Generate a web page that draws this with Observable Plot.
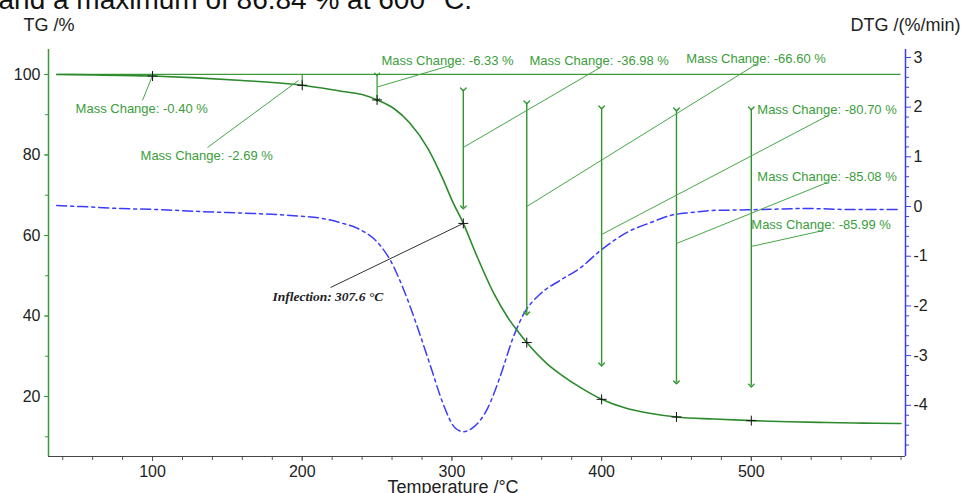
<!DOCTYPE html>
<html><head><meta charset="utf-8">
<script src="https://cdn.jsdelivr.net/npm/d3@7"></script>
<script src="https://cdn.jsdelivr.net/npm/@observablehq/plot@0.6"></script>
<style>body{margin:0;background:#fff;overflow:hidden}</style>
</head><body><div id="chart"></div>
<script>
// TG curve (%)
const tgT = [36, 60, 100, 130, 160, 200, 225, 240, 250, 261, 272, 284, 294, 300, 307.6, 317, 328, 337, 344, 350, 364, 373, 386, 400, 417, 433, 450, 475, 500, 525, 550, 575, 600];
const tgV = [100, 99.9, 99.6, 99.15, 98.5, 97.31, 95.9, 95.0, 93.67, 91.6, 87.9, 81.6, 74.0, 68.8, 63.0, 54.6, 45.6, 39.8, 36.2, 33.4, 28.0, 25.4, 22.2, 19.3, 17.0, 15.8, 14.92, 14.4, 14.01, 13.75, 13.55, 13.4, 13.3];
// DTG curve (%/min)
const dtgT = [36, 52, 79, 103, 132, 150, 167, 192, 217, 226, 237, 252, 259, 268, 277, 286, 294, 302, 307.7, 314, 324, 332, 341, 348, 359, 372, 386, 399, 417, 433, 446, 460, 473, 490, 506, 537, 566, 600];
const dtgV = [0.02, 0.0, -0.04, -0.06, -0.10, -0.12, -0.14, -0.18, -0.26, -0.33, -0.44, -0.78, -1.09, -1.69, -2.43, -3.24, -3.96, -4.45, -4.53, -4.45, -4.05, -3.44, -2.63, -2.16, -1.76, -1.49, -1.23, -0.89, -0.52, -0.32, -0.18, -0.12, -0.08, -0.07, -0.06, -0.04, -0.06, -0.06];
// evaluated points (+)
const markT = [100, 200, 250, 307.6, 350, 400, 450, 500];
const markTG = [99.6, 97.31, 93.67, 63.0, 33.4, 19.3, 14.92, 14.01];
// mass-change double arrows
const arrowT = [307.6, 350, 400, 450, 500];
const arrowTop = [96.27, 93.04, 91.8, 91.3, 91.55];
const arrowBottom = [66.96, 40.62, 27.95, 23.5, 22.73];
// annotation labels
const labelText = ["Mass Change: -0.40 %", "Mass Change: -2.69 %", "Mass Change: -6.33 %", "Mass Change: -36.98 %", "Mass Change: -66.60 %", "Mass Change: -80.70 %", "Mass Change: -85.08 %", "Mass Change: -85.99 %"];
const labelT = [48.6, 92.0, 252.9, 351.8, 456.6, 504.0, 504.0, 500.0];
const labelTG = [91.55, 79.88, 103.48, 103.48, 103.98, 91.3, 74.66, 62.73];
// leader lines label -> arrow
const leadT1 = [93.3, 136.7, 299.0, 399.2, 504.0, 551.4, 550.8, 548.1];
const leadTG1 = [93.54, 81.86, 102.24, 101.74, 102.7, 89.81, 73.17, 61.24];
const leadT2 = [100, 197.5, 250.3, 307.6, 350, 400, 450, 500];
const leadTG2 = [99.75, 98.5, 96.9, 81.86, 67.2, 60.25, 58.0, 57.27];
// inflection
const inflText = ["Inflection: 307.6 \u00B0C"];
const inflLabel = [180.1, 44.84];
const inflLead = [218.9, 47.08, 307.6, 63.0];
// ticks
const xTicks = [100, 200, 300, 400, 500];
const tgTicks = [20, 40, 60, 80, 100];
const dtgTicks = [3, 2, 1, 0, -1, -2, -3, -4];

const xDomain = [30.5, 603];
const tgDomain = [5.1, 106.2];
const dtgDomain = [-5.03, 3.16];
const dtgToTg = d3.scaleLinear().domain(dtgDomain).range(tgDomain);

const GREEN = "#3a9a3a", DARKGREEN = "#2c8a2c", ARROW = "#2f952f", LABEL = "#3b9d3b", BLUE = "#3b3bff";

const tg = tgT.map((t, i) => ({t, v: tgV[i]}));
const dtg = dtgT.map((t, i) => ({t, v: dtgToTg(dtgV[i])}));
const marks = markT.map((t, i) => ({t, v: markTG[i]}));
const arrows = arrowT.map((t, i) => ({t, a: arrowTop[i], b: arrowBottom[i]}));
const labels = labelText.map((s, i) => ({s, t: labelT[i], v: labelTG[i]}));
const leads = leadT1.map((t, i) => ({x1: t, y1: leadTG1[i], x2: leadT2[i], y2: leadTG2[i]}));

const minorDtg = d3.range(-48, 31, 2).map(d => d / 10).filter(d => !Number.isInteger(d));

const chart = Plot.plot({
  width: 964, height: 493,
  marginLeft: 48, marginRight: 59, marginTop: 49, marginBottom: 37,
  x: {domain: xDomain},
  y: {domain: tgDomain},
  style: {fontFamily: "'Liberation Sans', Arial, sans-serif", fontSize: "16px", color: "#222", background: "#fff", overflow: "visible"},
  marks: [
    // bottom axis
    Plot.axisX(d3.range(40, 601, 20), {tickSize: 4, tickFormat: () => "", stroke: "#555", label: null}),
    Plot.axisX(xTicks, {tickSize: 5, tickPadding: 4, fontSize: 16, stroke: "#555", fill: "#222", label: null}),
    // left axis
    Plot.axisY(d3.range(10, 101, 10), {anchor: "left", tickSize: 3, tickFormat: () => "", stroke: GREEN, label: null}),
    Plot.axisY(tgTicks, {anchor: "left", tickSize: 4, tickPadding: 4, fontSize: 16, stroke: GREEN, fill: "#222", label: null}),
    // right axis
    Plot.axisY(minorDtg.map(d => dtgToTg(d)), {anchor: "right", tickSize: 3, tickFormat: () => "", stroke: BLUE, label: null}),
    Plot.axisY(dtgTicks.map(d => dtgToTg(d)), {anchor: "right", tickSize: 5, tickPadding: 3, fontSize: 16, stroke: BLUE, fill: "#222", label: null,
      tickFormat: v => String(Math.round(dtgToTg.invert(v)))}),
    Plot.ruleX([xDomain[0]], {stroke: GREEN, strokeWidth: 1.5}),
    Plot.ruleX([xDomain[1]], {stroke: BLUE, strokeWidth: 1.5}),
    Plot.ruleY([tgDomain[0]], {stroke: "#444", strokeWidth: 1}),
    // 100 % reference
    Plot.ruleY([100], {x1: 36, x2: 600, stroke: GREEN, strokeWidth: 1.3}),
    // DTG
    Plot.line(dtg, {x: "t", y: "v", curve: "monotone-x", stroke: BLUE, strokeWidth: 1.5, strokeDasharray: "10,4,3,4"}),
    // TG
    Plot.line(tg, {x: "t", y: "v", curve: "monotone-x", stroke: DARKGREEN, strokeWidth: 1.6}),
    // small step markers at 200 and 250
    Plot.link([{t: 200}], {x1: "t", x2: "t", y1: 100, y2: 97.31, stroke: ARROW, strokeWidth: 1.2}),
    Plot.link([{t: 250}], {x1: "t", x2: "t", y1: 100, y2: 93.67, stroke: ARROW, strokeWidth: 1.2, markerStart: "arrow", markerEnd: "arrow"}),
    // big arrows
    Plot.link(arrows, {x1: "t", x2: "t", y1: "a", y2: "b", stroke: ARROW, strokeWidth: 1.4, markerStart: "arrow", markerEnd: "arrow"}),
    // leaders
    Plot.link(leads, {x1: "x1", y1: "y1", x2: "x2", y2: "y2", stroke: "#45a845", strokeWidth: 1}),
    Plot.link([inflLead], {x1: d => d[0], y1: d => d[1], x2: d => d[2], y2: d => d[3], stroke: "#333", strokeWidth: 1}),
    // markers
    Plot.dot(marks, {x: "t", y: "v", symbol: "plus", r: 3.3, stroke: "#111", strokeWidth: 1}),
    // labels
    Plot.text(labels, {x: "t", y: "v", text: "s", textAnchor: "start", fill: LABEL, fontSize: 13}),
    Plot.text(inflText, {x: inflLabel[0], y: inflLabel[1], text: d => d, textAnchor: "start", fill: "#222", fontSize: 13.5,
      fontFamily: "'Liberation Serif', 'Times New Roman', serif", fontStyle: "italic", fontWeight: "bold"}),
    // titles
    Plot.text(["TG /%"], {frameAnchor: "top-left", dx: -25, dy: -31, textAnchor: "start", fontSize: 18, fill: "#222"}),
    Plot.text(["DTG /(%/min)"], {frameAnchor: "top-right", dx: -55, dy: -31, textAnchor: "start", fontSize: 18, fill: "#222"}),
    Plot.text(["Temperature /\u00B0C"], {frameAnchor: "bottom", dx: -24, dy: 36, lineAnchor: "bottom", fontSize: 18, fill: "#222"}),
    Plot.text(["and a maximum of 86.84 % at 600 \u00B0C."], {frameAnchor: "top-left", dx: -50, dy: -41, textAnchor: "start", lineAnchor: "bottom", fontSize: 28, fill: "#111"})
  ]
});
document.getElementById("chart").appendChild(chart);
</script>
</body></html>
